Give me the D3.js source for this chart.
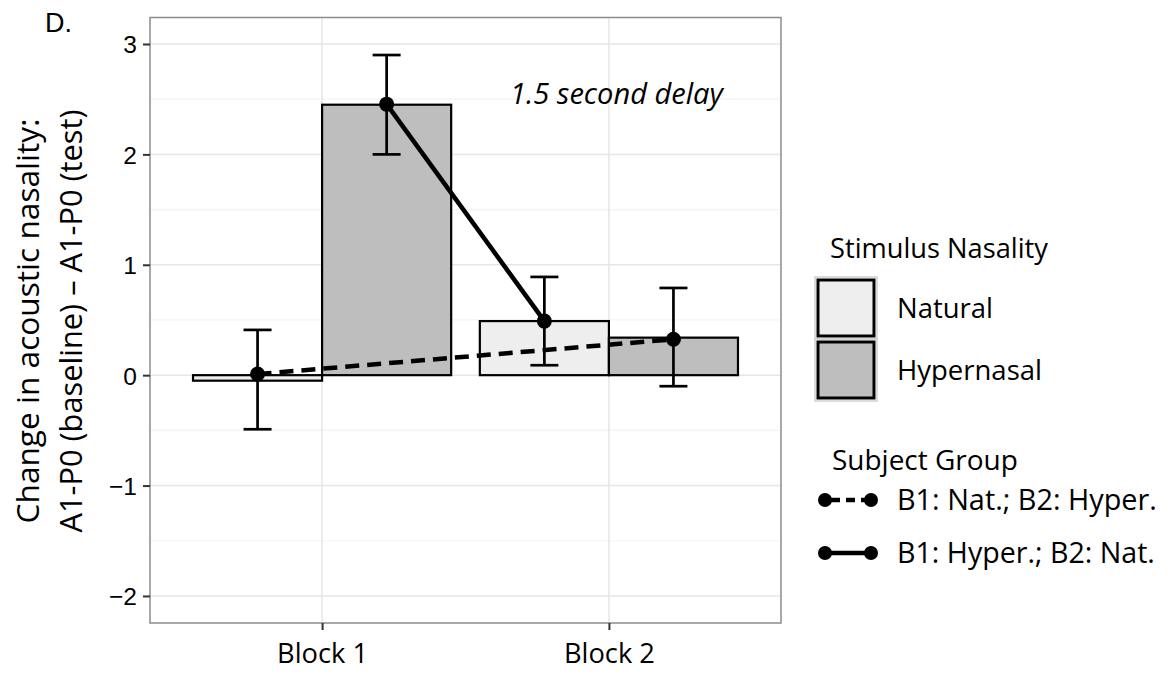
<!DOCTYPE html>
<html>
<head>
<meta charset="utf-8">
<script src="https://cdn.jsdelivr.net/npm/d3@7"></script>
<style>
  body { margin: 0; background: #fff; }
  svg { display: block; }
  .lbl { font-family: "Open Sans", sans-serif; fill: #000; }
  .num { font-family: "Liberation Sans", Arial, sans-serif; fill: #000; }
</style>
</head>
<body>
<div id="chart"></div>
<script>

// values
var blocks = ["Block 1", "Block 2"];
var stimuli = ["Natural", "Hypernasal"];
var stimFill = ["#eeeeee", "#bebebe"];
// bar height per block, [Natural, Hypernasal]
var barValues = [[-0.05, 2.45], [0.49, 0.34]];

var groups = ["B1: Nat.; B2: Hyper.", "B1: Hyper.; B2: Nat."];
var groupDash = ["14,8", null];
// which stimulus each group heard in Block 1 / Block 2
var groupStim = [["Natural", "Hypernasal"], ["Hypernasal", "Natural"]];
var groupMeans = [[0.01, 0.325], [2.455, 0.49]];
var groupLow = [[-0.49, -0.10], [2.00, 0.09]];
var groupHigh = [[0.41, 0.79], [2.90, 0.89]];

var yTicks = [-2, -1, 0, 1, 2, 3];
var yMinor = [-1.5, -0.5, 0.5, 1.5, 2.5];

function draw_chart()
{
  var W = 1175, H = 685;
  var pLeft = 150, pRight = 781, pTop = 17.5, pBottom = 623;

  var svg = d3.select("#chart").append("svg")
      .attr("width", W)
      .attr("height", H);

  var x = d3.scalePoint().domain(blocks).range([pLeft, pRight]).padding(0.6);
  var step = x.step();
  var xSub = d3.scaleBand().domain(stimuli).range([-0.45 * step, 0.45 * step]);
  var y = d3.scaleLinear().domain([-2.245, 3.24]).range([pBottom, pTop]);

  function px(block, stim) { return x(block) + xSub(stim) + xSub.bandwidth() / 2; }

  // squeeze text to a measured width
  function fit(sel, target) {
    var w = sel.node().getComputedTextLength();
    var fs = parseFloat(sel.style("font-size"));
    sel.style("font-size", (fs * target / w) + "px");
    return sel;
  }

  // grid
  svg.selectAll(".minor").data(yMinor).enter().append("line")
      .attr("x1", pLeft).attr("x2", pRight)
      .attr("y1", function(d) { return y(d); }).attr("y2", function(d) { return y(d); })
      .attr("stroke", "#f4f4f4").attr("stroke-width", 1.2);
  svg.selectAll(".major").data(yTicks).enter().append("line")
      .attr("x1", pLeft).attr("x2", pRight)
      .attr("y1", function(d) { return y(d); }).attr("y2", function(d) { return y(d); })
      .attr("stroke", "#e6e6e6").attr("stroke-width", 1.5);
  svg.selectAll(".vmajor").data(blocks).enter().append("line")
      .attr("y1", pTop).attr("y2", pBottom)
      .attr("x1", function(d) { return x(d); }).attr("x2", function(d) { return x(d); })
      .attr("stroke", "#e6e6e6").attr("stroke-width", 1.5);

  // bars
  var barData = [];
  blocks.forEach(function(b, i) {
    stimuli.forEach(function(s, j) {
      barData.push({ block: b, stim: s, v: barValues[i][j], fill: stimFill[j] });
    });
  });
  svg.selectAll(".bar").data(barData).enter().append("rect")
      .attr("x", function(d) { return x(d.block) + xSub(d.stim); })
      .attr("width", xSub.bandwidth())
      .attr("y", function(d) { return y(Math.max(0, d.v)); })
      .attr("height", function(d) { return Math.abs(y(d.v) - y(0)); })
      .attr("fill", function(d) { return d.fill; })
      .attr("stroke", "#000").attr("stroke-width", 2.2);

  // group lines, error bars, points
  groups.forEach(function(g, gi) {
    var pts = blocks.map(function(b, bi) {
      return { x: px(b, groupStim[gi][bi]), m: groupMeans[gi][bi], lo: groupLow[gi][bi], hi: groupHigh[gi][bi] };
    });
    var cap = 14;
    var eg = svg.append("g").attr("stroke", "#000").attr("stroke-width", 2.7);
    pts.forEach(function(p) {
      eg.append("line").attr("x1", p.x).attr("x2", p.x).attr("y1", y(p.lo)).attr("y2", y(p.hi));
      eg.append("line").attr("x1", p.x - cap).attr("x2", p.x + cap).attr("y1", y(p.lo)).attr("y2", y(p.lo));
      eg.append("line").attr("x1", p.x - cap).attr("x2", p.x + cap).attr("y1", y(p.hi)).attr("y2", y(p.hi));
    });
    svg.append("path")
        .datum(pts)
        .attr("d", d3.line().x(function(d) { return d.x; }).y(function(d) { return y(d.m); }))
        .attr("fill", "none").attr("stroke", "#000").attr("stroke-width", 4.5)
        .attr("stroke-dasharray", groupDash[gi]);
    svg.selectAll(null).data(pts).enter().append("circle")
        .attr("cx", function(d) { return d.x; }).attr("cy", function(d) { return y(d.m); })
        .attr("r", 7.5).attr("fill", "#000");
  });

  // panel border
  svg.append("rect").attr("x", pLeft).attr("y", pTop)
      .attr("width", pRight - pLeft).attr("height", pBottom - pTop)
      .attr("fill", "none").attr("stroke", "#8c8c8c").attr("stroke-width", 1.5);

  // axes
  var yAxis = svg.append("g").attr("transform", "translate(" + pLeft + ",0)")
      .call(d3.axisLeft(y).tickValues(yTicks).tickSize(7).tickPadding(6)
        .tickFormat(function(d) { return d < 0 ? "\u2212" + Math.abs(d) : d; }));
  yAxis.select(".domain").remove();
  yAxis.selectAll("line").attr("stroke", "#333").attr("stroke-width", 2);
  var yLabels = yAxis.selectAll("text").attr("class", "num").style("font-size", "22px").attr("dy", "0.36em");
  // size tick labels so "−1" is as wide as in the picture
  var probe = yLabels.filter(function(d) { return d === -1; });
  fit(probe, 28);
  yLabels.style("font-size", probe.style("font-size"));

  var xAxis = svg.append("g").attr("transform", "translate(0," + pBottom + ")")
      .call(d3.axisBottom(x).tickSize(7).tickPadding(14));
  xAxis.select(".domain").remove();
  xAxis.selectAll("line").attr("stroke", "#333").attr("stroke-width", 2);
  xAxis.selectAll("text").attr("class", "lbl").style("font-size", "26px").attr("dy", "0.71em")
      .each(function() { fit(d3.select(this), 91); });

  // y title
  var yt = svg.append("g").attr("transform", "translate(0,321) rotate(-90)");
  fit(yt.append("text").attr("class", "lbl").attr("y", 39).attr("text-anchor", "middle")
      .style("font-size", "26px").text("Change in acoustic nasality:"), 405);
  fit(yt.append("text").attr("class", "lbl").attr("y", 82).attr("text-anchor", "middle")
      .style("font-size", "26px").text("A1-P0 (baseline) \u2013 A1-P0 (test)"), 423);

  // panel letter and annotation
  fit(svg.append("text").attr("class", "num").attr("x", 45).attr("y", 32)
      .style("font-size", "24px").text("D."), 27);
  fit(svg.append("text").attr("class", "lbl").attr("x", 510).attr("y", 104)
      .style("font-size", "26px").attr("font-style", "italic").text("1.5 second delay"), 213);

  // legend: stimulus
  fit(svg.append("text").attr("class", "lbl").attr("x", 830).attr("y", 258)
      .style("font-size", "26px").text("Stimulus Nasality"), 218);
  stimuli.forEach(function(s, i) {
    var ky = 278 + i * 62;
    svg.append("rect").attr("x", 815).attr("y", ky - 1).attr("width", 62).attr("height", 62)
        .attr("fill", "none").attr("stroke", "#cfcfcf").attr("stroke-width", 1.5);
    svg.append("rect").attr("x", 818).attr("y", ky + 2).attr("width", 56).attr("height", 56)
        .attr("fill", stimFill[i]).attr("stroke", "#000").attr("stroke-width", 3);
    var t = svg.append("text").attr("class", "lbl").attr("x", 897).attr("y", ky + 40)
        .style("font-size", "26px").text(s);
    fit(t, i === 0 ? 96 : 145);
  });

  // legend: subject group
  fit(svg.append("text").attr("class", "lbl").attr("x", 832).attr("y", 470)
      .style("font-size", "26px").text("Subject Group"), 186);
  groups.forEach(function(g, i) {
    var ly = 500 + i * 53;
    svg.append("line").attr("x1", 825).attr("x2", 871).attr("y1", ly).attr("y2", ly)
        .attr("stroke", "#000").attr("stroke-width", 4.5)
        .attr("stroke-dasharray", i === 0 ? "9,6" : null)
        .attr("stroke-dashoffset", i === 0 ? -6 : 0);
    svg.append("circle").attr("cx", 825).attr("cy", ly).attr("r", 7).attr("fill", "#000");
    svg.append("circle").attr("cx", 871).attr("cy", ly).attr("r", 7).attr("fill", "#000");
    fit(svg.append("text").attr("class", "lbl").attr("x", 897).attr("y", ly + 10)
        .style("font-size", "26px").text(g), i === 0 ? 260 : 258);
  });
}

draw_chart();

</script>
</body>
</html>
